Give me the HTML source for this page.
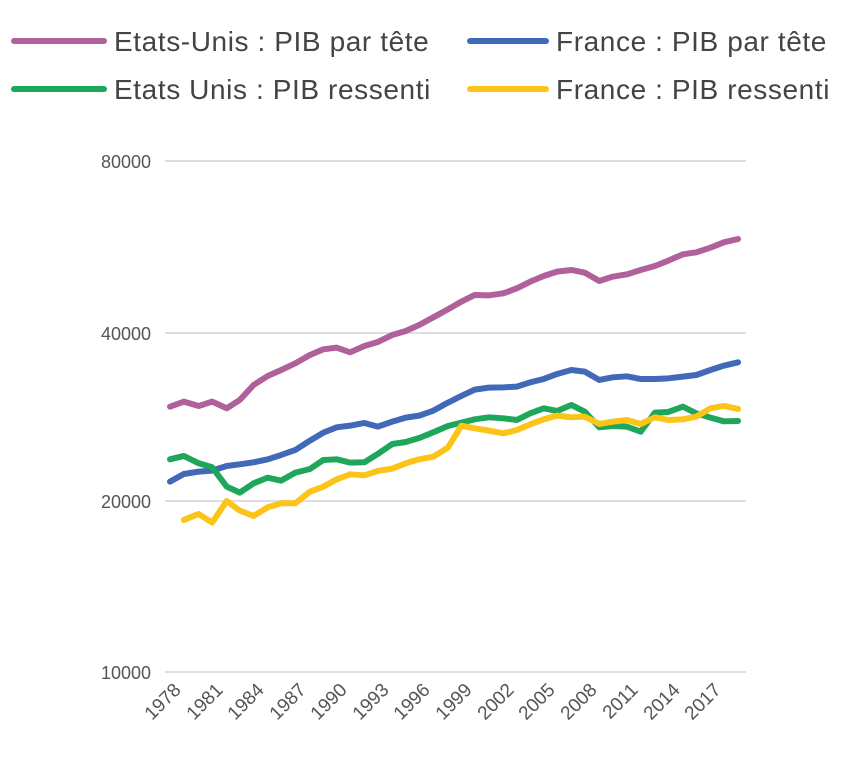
<!DOCTYPE html>
<html><head><meta charset="utf-8"><style>
html,body{margin:0;padding:0;background:#fff;}
svg{display:block;font-family:"Liberation Sans",sans-serif;}
</style></head><body>
<svg width="860" height="757" viewBox="0 0 860 757">
<g font-size="28" fill="#444" letter-spacing="0.6">
<line x1="14" y1="41" x2="104" y2="41" stroke="#b0609a" stroke-width="6" stroke-linecap="round"/>
<text x="114" y="51">Etats-Unis : PIB par tête</text>
<line x1="470" y1="41" x2="546" y2="41" stroke="#4169b8" stroke-width="6" stroke-linecap="round"/>
<text x="556" y="51">France : PIB par tête</text>
<line x1="14" y1="89" x2="104" y2="89" stroke="#1ea65a" stroke-width="6" stroke-linecap="round"/>
<text x="114" y="99">Etats Unis : PIB ressenti</text>
<line x1="470" y1="89" x2="546" y2="89" stroke="#fcc419" stroke-width="6" stroke-linecap="round"/>
<text x="556" y="99">France : PIB ressenti</text>
</g>
<g stroke="#dedede" stroke-width="2">
<line x1="165" y1="161" x2="746" y2="161"/>
<line x1="165" y1="333" x2="746" y2="333"/>
<line x1="165" y1="501" x2="746" y2="501"/>
<line x1="165" y1="672" x2="746" y2="672"/>
</g>
<g font-size="18" fill="#555" text-anchor="end">
<text x="151" y="168">80000</text>
<text x="151" y="340">40000</text>
<text x="151" y="508">20000</text>
<text x="151" y="679">10000</text>
</g>
<g font-size="19" fill="#555" text-anchor="end">
<text transform="translate(182,691) rotate(-45)">1978</text>
<text transform="translate(224,691) rotate(-45)">1981</text>
<text transform="translate(265,691) rotate(-45)">1984</text>
<text transform="translate(307,691) rotate(-45)">1987</text>
<text transform="translate(348,691) rotate(-45)">1990</text>
<text transform="translate(390,691) rotate(-45)">1993</text>
<text transform="translate(431,691) rotate(-45)">1996</text>
<text transform="translate(473,691) rotate(-45)">1999</text>
<text transform="translate(515,691) rotate(-45)">2002</text>
<text transform="translate(556,691) rotate(-45)">2005</text>
<text transform="translate(598,691) rotate(-45)">2008</text>
<text transform="translate(639,691) rotate(-45)">2011</text>
<text transform="translate(681,691) rotate(-45)">2014</text>
<text transform="translate(722,691) rotate(-45)">2017</text>
</g>
<g transform="translate(158.5,220) scale(0.3833,0.3333)" fill="none" stroke-width="6" stroke-linejoin="round" stroke-linecap="round">
<polyline vector-effect="non-scaling-stroke" stroke="#b0609a" points="30,560 66,545 105,558 140,545 178,565 212,540 248,495 285,468 320,450 357,430 395,405 430,388 465,383 500,397 537,378 572,366 610,345 645,333 680,315 717,292 755,268 790,245 825,225 862,226 900,220 935,205 970,185 1005,168 1040,155 1077,150 1112,158 1150,183 1185,170 1222,163 1258,150 1295,138 1330,122 1368,103 1403,97 1440,83 1475,67 1512,57"/>
<polyline vector-effect="non-scaling-stroke" stroke="#4169b8" points="30,785 66,762 105,755 140,752 178,738 212,733 248,727 285,718 320,705 357,690 395,662 430,638 465,622 500,617 537,609 572,620 610,605 645,593 680,587 717,572 755,548 790,528 825,509 862,503 900,502 935,500 970,487 1005,477 1040,462 1077,450 1112,455 1150,480 1185,472 1222,469 1258,477 1295,477 1330,475 1368,470 1403,465 1440,450 1475,437 1512,427"/>
<polyline vector-effect="non-scaling-stroke" stroke="#1ea65a" points="30,718 66,708 105,730 140,742 178,800 212,818 248,790 285,773 320,782 357,758 395,747 430,720 465,718 500,728 537,727 572,702 610,672 645,666 680,654 717,637 755,618 790,608 825,598 862,592 900,595 935,600 970,580 1005,565 1040,573 1077,555 1112,575 1150,622 1185,618 1222,620 1258,635 1295,578 1330,576 1368,560 1403,580 1440,593 1475,604 1512,603"/>
<polyline vector-effect="non-scaling-stroke" stroke="#fcc419" points="66,900 105,882 140,908 178,843 212,872 248,888 285,862 320,850 357,850 395,815 430,800 465,778 500,763 537,766 572,753 610,746 645,730 680,718 717,710 755,683 790,617 825,625 862,632 900,640 935,630 970,613 1005,598 1040,587 1077,592 1112,590 1150,612 1185,605 1222,600 1258,612 1295,592 1330,600 1368,598 1403,590 1440,565 1475,558 1512,567"/>
</g>
</svg>
</body></html>
